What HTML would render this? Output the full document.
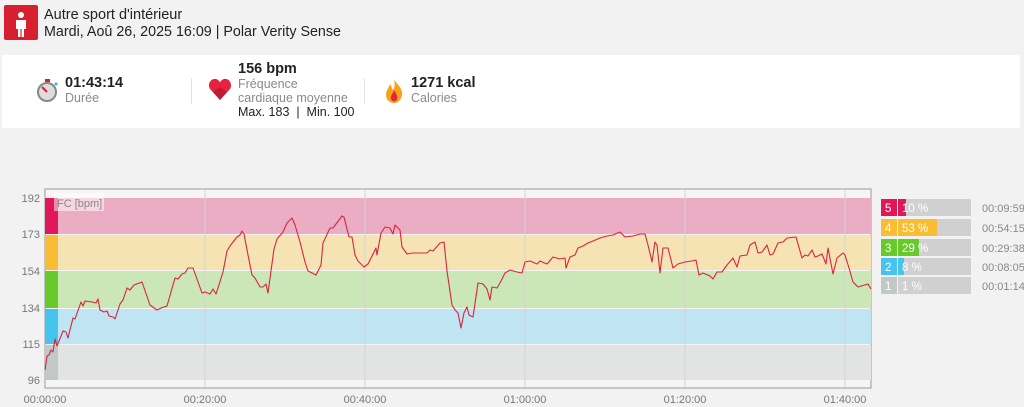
<!DOCTYPE html>
<html><head><meta charset="utf-8"><style>
body{margin:0;width:1024px;height:407px;background:#f2f2f2;font-family:"Liberation Sans",sans-serif;position:relative;overflow:hidden}
.a{position:absolute;white-space:nowrap}
.g{color:#8a8a8a}
</style></head><body>
<div class="a" style="left:4px;top:5px;width:34px;height:35px;background:#d6202f;border-radius:2px">
<svg width="34" height="35"><circle cx="17" cy="10" r="3" fill="#fff"/><path d="M12 15h10v9h-2v8h-2.4v-8h-1.2v8H14v-8h-2z" fill="#fff"/></svg></div>
<div class="a" style="left:44px;top:7px;font-size:14.5px;color:#222">Autre sport d'intérieur</div>
<div class="a" style="left:44px;top:24px;font-size:14.3px;color:#222">Mardi, Aoû 26, 2025 16:09 | Polar Verity Sense</div>
<div class="a" style="left:2px;top:55px;width:1018px;height:73px;background:#fff"></div>
<svg class="a" style="left:36px;top:78px" width="24" height="26"><circle cx="11" cy="14" r="9" fill="#ddd" stroke="#888" stroke-width="2"/><line x1="11" y1="14" x2="6" y2="9" stroke="#d6202f" stroke-width="2"/><rect x="9" y="1" width="5" height="3" fill="#d6202f"/><circle cx="20" cy="6" r="1.5" fill="#3ab0e0"/></svg>
<div class="a" style="left:65px;top:75px;font-size:14.5px;font-weight:bold;color:#222">01:43:14</div>
<div class="a g" style="left:65px;top:91px;font-size:12.5px">Durée</div>
<div class="a" style="left:191px;top:78px;width:1px;height:26px;background:#e2e2e2"></div>
<svg class="a" style="left:208px;top:78px" width="26" height="24"><path d="M12 22 L2 11 C-1 6 3 0 8 1 C10 1.5 11.5 3 12 4.5 C12.5 3 14 1.5 16 1 C21 0 25 6 22 11 Z" fill="#e8213f"/><path d="M12 22 L5 14 L12 9 L19 14Z" fill="#c01a33"/></svg>
<div class="a" style="left:238px;top:61px;font-size:14.5px;font-weight:bold;color:#222">156 bpm</div>
<div class="a g" style="left:238px;top:77px;font-size:12.5px">Fréquence</div>
<div class="a g" style="left:238px;top:91px;font-size:12.5px">cardiaque moyenne</div>
<div class="a" style="left:238px;top:105px;font-size:12.5px;color:#222">Max. 183 &nbsp;| &nbsp;Min. 100</div>
<div class="a" style="left:364px;top:78px;width:1px;height:26px;background:#e2e2e2"></div>
<svg class="a" style="left:384px;top:78px" width="20" height="26"><path d="M10 1 C13 7 19 10 18 17 C17 23 13 25 10 25 C6 25 2 22 2 17 C2 12 5 10 6 6 C8 9 8 11 9 12 C11 9 11 5 10 1Z" fill="#f7a21b"/><path d="M10 12 C12 16 14 18 13 21 C12 24 8 24 7 21 C6 18 9 16 10 12Z" fill="#e8213f"/></svg>
<div class="a" style="left:411px;top:75px;font-size:14.5px;font-weight:bold;color:#222">1271 kcal</div>
<div class="a g" style="left:411px;top:91px;font-size:12.5px">Calories</div>

<svg class="a" style="left:0;top:0" width="1024" height="407" font-family="Liberation Sans, sans-serif">
<rect x="45" y="189" width="826" height="199" fill="#f5f5f5" stroke="#999" stroke-width="1"/>
<rect x="45" y="198" width="826" height="36" fill="#ebadc3"/>
<rect x="45" y="235" width="826" height="35" fill="#f6e3b3"/>
<rect x="45" y="271" width="826" height="37" fill="#cbe6b7"/>
<rect x="45" y="309" width="826" height="35" fill="#bfe4f2"/>
<rect x="45" y="345" width="826" height="35" fill="#e2e3e3"/>
<rect x="45" y="198" width="13" height="36" fill="#e0175a"/>
<rect x="45" y="235" width="13" height="35" fill="#f8bd35"/>
<rect x="45" y="271" width="13" height="37" fill="#67c92a"/>
<rect x="45" y="309" width="13" height="35" fill="#45c4ef"/>
<rect x="45" y="345" width="13" height="35" fill="#c2c8c8"/>
<rect x="54" y="193" width="50" height="18" fill="#fff" opacity="0.5"/>
<text x="57" y="207" font-size="11" fill="#888">FC [bpm]</text>
<g stroke="#d4d4d4" stroke-width="1"><line x1="205" y1="189" x2="205" y2="388"/><line x1="365" y1="189" x2="365" y2="388"/><line x1="525" y1="189" x2="525" y2="388"/><line x1="685" y1="189" x2="685" y2="388"/><line x1="845" y1="189" x2="845" y2="388"/></g>
<line x1="45" y1="388" x2="871" y2="388" stroke="#999"/>
<g font-size="11" fill="#777" text-anchor="end"><text x="40" y="202">192</text><text x="40" y="238">173</text><text x="40" y="275">154</text><text x="40" y="312">134</text><text x="40" y="348">115</text><text x="40" y="384">96</text></g>
<g font-size="11" fill="#777" text-anchor="middle"><text x="45" y="403">00:00:00</text><text x="205" y="403">00:20:00</text><text x="365" y="403">00:40:00</text><text x="525" y="403">01:00:00</text><text x="685" y="403">01:20:00</text><text x="845" y="403">01:40:00</text></g>
<polyline fill="none" stroke="#d9253f" stroke-width="1.1" stroke-linejoin="round" points="45,370 47,356 49,355 51,350 53,352 55,339 57,346 63,331 66,332 68,338 73,318 75,319 81,302 83,306 85,301 92,302 96,303 98,299 100,310 104,312 107,311 109,316 113,317 115,319 120,304 123,300 127,288 130,290 134,285 142,282 150,305 157,310 161,308 167,306 175,278 178,279 182,274 185,273 188,268 193,268 202,293 205,292 210,294 213,289 216,294 218,288 223,272 227,251 230,246 233,242 237,237 240,235 242,231 244,234 248,255 252,275 255,278 260,287 263,287 266,284 268,293 274,249 277,239 283,232 287,223 292,218 295,225 300,242 305,262 308,271 312,273 316,275 321,265 323,243 330,228 333,228 342,216 344,217 349,237 352,237 355,255 358,261 364,267 368,264 376,248 377,255 381,233 385,227 390,228 393,234 395,225 400,230 402,247 407,254 413,253 427,253 430,250 433,251 440,243 444,242 447,271 452,305 455,310 458,313 461,328 464,313 467,307 469,315 473,317 478,283 483,284 487,289 490,300 492,287 497,288 500,283 505,273 510,270 517,272 522,273 525,262 530,261 537,264 540,261 547,264 553,257 560,259 565,258 566,268 570,257 575,255 578,248 583,246 588,243 593,241 600,238 607,236 613,235 620,232 625,237 633,236 640,234 645,234 648,245 652,262 655,242 657,245 660,273 663,248 668,248 673,268 678,264 685,262 692,261 696,260 699,275 703,273 710,276 713,279 717,272 722,272 727,265 733,258 737,267 740,256 747,255 750,245 755,242 758,253 762,252 767,245 770,255 773,254 778,243 783,242 787,238 796,237 802,258 805,255 808,256 812,250 815,257 818,256 822,254 826,264 828,248 833,274 837,258 843,253 845,255 849,268 853,282 858,287 868,284 871,289"/>
<g font-size="11.5">
<rect x="898" y="199" width="73" height="17" fill="#d0d0d0"/><rect x="898" y="199" width="8" height="17" fill="#e0175a"/><rect x="881" y="199" width="16" height="17" fill="#e0175a"/>
<rect x="898" y="219" width="73" height="17" fill="#d0d0d0"/><rect x="898" y="219" width="39" height="17" fill="#f8bd35"/><rect x="881" y="219" width="16" height="17" fill="#f8bd35"/>
<rect x="898" y="239" width="73" height="17" fill="#d0d0d0"/><rect x="898" y="239" width="21" height="17" fill="#67c92a"/><rect x="881" y="239" width="16" height="17" fill="#67c92a"/>
<rect x="898" y="258" width="73" height="17" fill="#d0d0d0"/><rect x="898" y="258" width="6" height="17" fill="#45c4ef"/><rect x="881" y="258" width="16" height="17" fill="#45c4ef"/>
<rect x="898" y="277" width="73" height="17" fill="#d0d0d0"/><rect x="881" y="277" width="16" height="17" fill="#c2c8c8"/>
<g fill="#fff"><text x="885" y="212">5</text><text x="902" y="212">10 %</text><text x="885" y="232">4</text><text x="902" y="232">53 %</text><text x="885" y="252">3</text><text x="902" y="252">29 %</text><text x="885" y="271">2</text><text x="902" y="271">8 %</text><text x="885" y="290">1</text><text x="902" y="290">1 %</text></g>
<g fill="#888" font-size="11"><text x="982" y="212">00:09:59</text><text x="982" y="232">00:54:15</text><text x="982" y="252">00:29:38</text><text x="982" y="271">00:08:05</text><text x="982" y="290">00:01:14</text></g>
</g>
</svg>
</body></html>
